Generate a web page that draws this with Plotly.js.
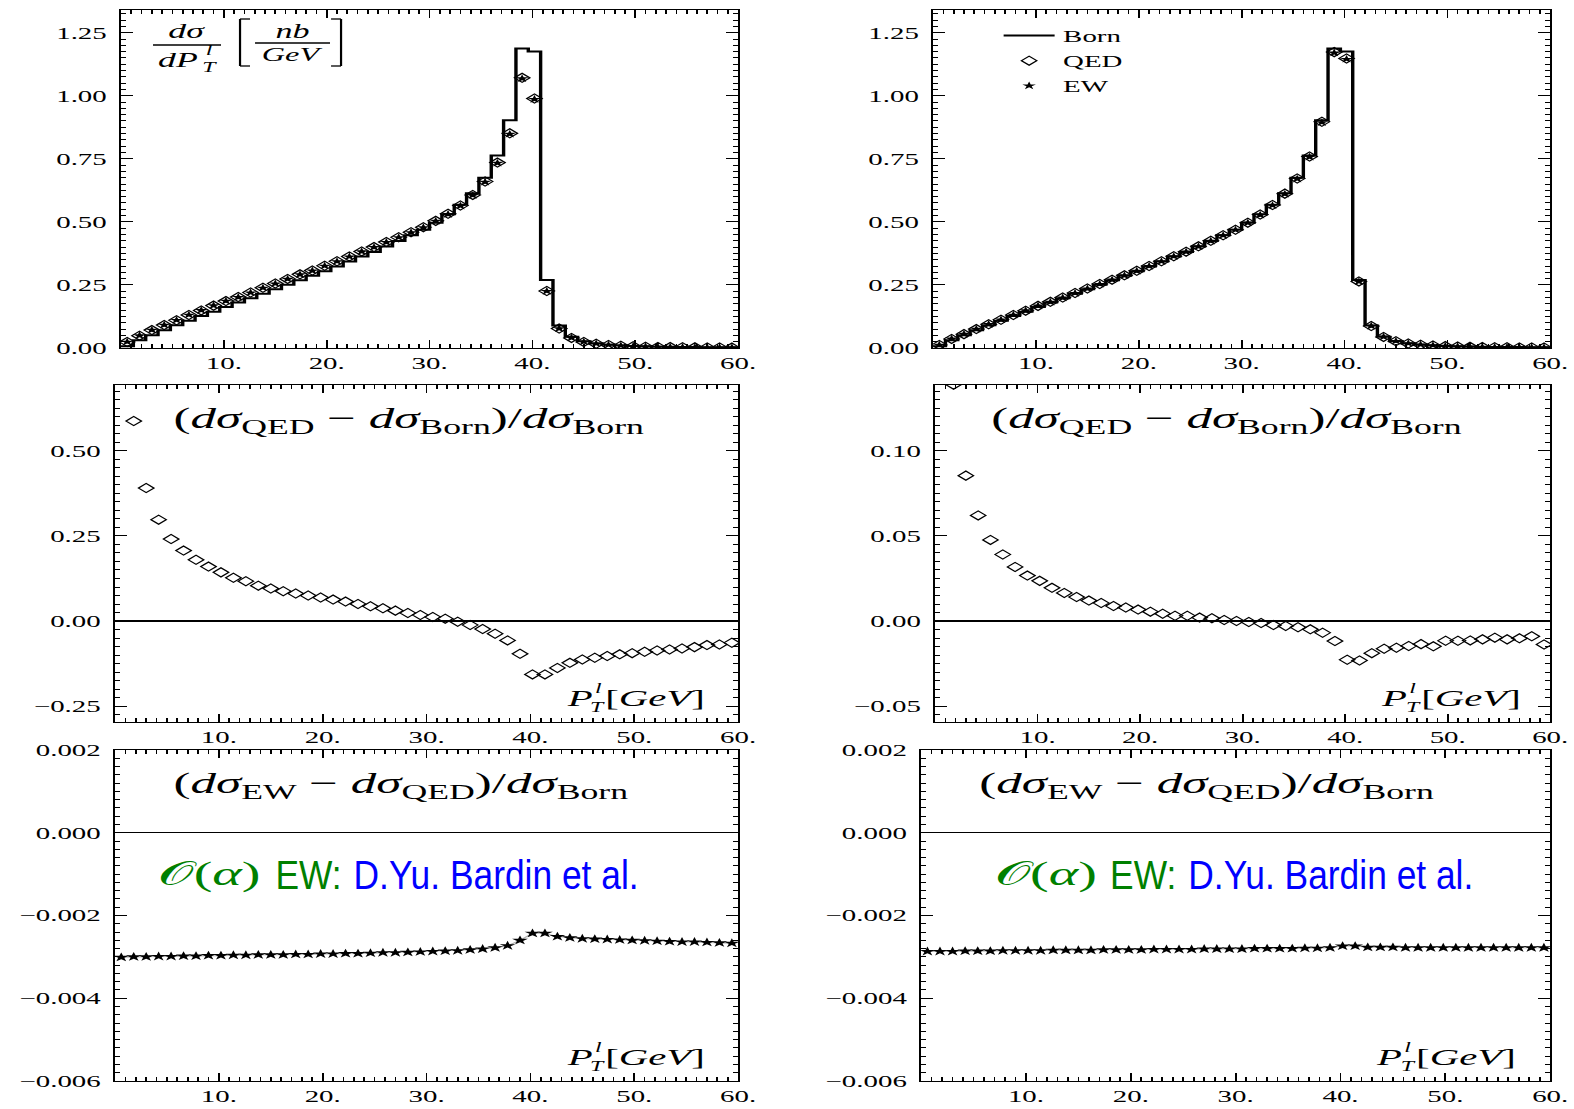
<!DOCTYPE html>
<html>
<head>
<meta charset="utf-8">
<script src="https://cdn.plot.ly/plotly-3.0.1.min.js"></script>
<style>
    html, body { margin: 0; padding: 0; background: #fff; overflow: hidden; }
    /* the reference is stretched sideways, so the plot is drawn narrow and widened */
    #plot { width: 926px; height: 1109px; transform: scaleX(1.7); transform-origin: 0 0; }
</style>
</head>
<body>
<div id="plot"></div>
<script>

// Bin centres of the lepton transverse momentum, GeV (bins of 1.2 GeV)
var binCenters = [0.6, 1.8, 3.0, 4.2, 5.4, 6.6, 7.8, 9.0, 10.2, 11.4,
                  12.6, 13.8, 15.0, 16.2, 17.4, 18.6, 19.8, 21.0, 22.2, 23.4,
                  24.6, 25.8, 27.0, 28.2, 29.4, 30.6, 31.8, 33.0, 34.2, 35.4,
                  36.6, 37.8, 39.0, 40.2, 41.4, 42.6, 43.8, 45.0, 46.2, 47.4,
                  48.6, 49.8, 51.0, 52.2, 53.4, 54.6, 55.8, 57.0, 58.2, 59.4];

// Born cross section, nb/GeV (same in both columns)
var bornXsec = [0.007, 0.031, 0.051, 0.070, 0.090, 0.108, 0.127, 0.144, 0.163, 0.180,
                0.197, 0.215, 0.233, 0.251, 0.269, 0.286, 0.304, 0.323, 0.343, 0.363,
                0.381, 0.402, 0.424, 0.447, 0.469, 0.497, 0.530, 0.568, 0.614, 0.675,
                0.763, 0.903, 1.187, 1.175, 0.270, 0.089, 0.045, 0.027, 0.018, 0.013,
                0.010, 0.0075, 0.0058, 0.0046, 0.0038, 0.0032, 0.0027, 0.0023, 0.0020, 0.0017];

// QED and EW cross sections, left column
var qedLeft = [0.024, 0.049, 0.071, 0.091, 0.110, 0.131, 0.149, 0.168, 0.186, 0.202,
               0.220, 0.239, 0.256, 0.274, 0.292, 0.307, 0.326, 0.344, 0.363, 0.383,
               0.400, 0.420, 0.439, 0.459, 0.479, 0.504, 0.532, 0.565, 0.607, 0.660,
               0.735, 0.851, 1.071, 0.989, 0.226, 0.077, 0.040, 0.024, 0.017, 0.012,
               0.009, 0.0068, 0.0053, 0.0042, 0.0035, 0.0029, 0.0025, 0.0021, 0.0019, 0.0016];
var ewLeft = [0.024, 0.049, 0.071, 0.091, 0.110, 0.131, 0.149, 0.168, 0.186, 0.201,
              0.219, 0.238, 0.255, 0.273, 0.291, 0.306, 0.325, 0.343, 0.362, 0.382,
              0.399, 0.419, 0.438, 0.458, 0.478, 0.503, 0.530, 0.563, 0.605, 0.658,
              0.733, 0.848, 1.068, 0.986, 0.225, 0.077, 0.040, 0.024, 0.017, 0.012,
              0.009, 0.0068, 0.0053, 0.0042, 0.0035, 0.0029, 0.0025, 0.0021, 0.0019, 0.0016];

// QED and EW cross sections, right column
var qedRight = [0.012, 0.036, 0.055, 0.075, 0.094, 0.112, 0.131, 0.148, 0.167, 0.183,
                0.200, 0.218, 0.236, 0.254, 0.271, 0.288, 0.306, 0.325, 0.344, 0.364,
                0.382, 0.403, 0.425, 0.447, 0.469, 0.497, 0.529, 0.567, 0.612, 0.672,
                0.759, 0.897, 1.173, 1.148, 0.264, 0.087, 0.044, 0.027, 0.018, 0.013,
                0.010, 0.0074, 0.0057, 0.0045, 0.0038, 0.0032, 0.0027, 0.0023, 0.0020, 0.0017];
var ewRight = [0.012, 0.036, 0.055, 0.075, 0.094, 0.112, 0.131, 0.148, 0.167, 0.182,
               0.199, 0.217, 0.235, 0.253, 0.270, 0.287, 0.305, 0.324, 0.343, 0.363,
               0.381, 0.402, 0.424, 0.446, 0.468, 0.496, 0.527, 0.565, 0.610, 0.670,
               0.757, 0.894, 1.170, 1.145, 0.263, 0.087, 0.044, 0.027, 0.018, 0.013,
               0.010, 0.0074, 0.0057, 0.0045, 0.0038, 0.0032, 0.0027, 0.0023, 0.0020, 0.0017];

// (dsigma_QED - dsigma_Born) / dsigma_Born
var relQedLeft = [2.4, 0.588, 0.391, 0.298, 0.241, 0.207, 0.180, 0.160, 0.143, 0.127,
                  0.117, 0.104, 0.0955, 0.0876, 0.0807, 0.0748, 0.0689, 0.0630, 0.0571, 0.0502,
                  0.0433, 0.0374, 0.0305, 0.0236, 0.0177, 0.0118, 0.0069, -0.002, -0.0118, -0.0236,
                  -0.0374, -0.0571, -0.0965, -0.157, -0.157, -0.138, -0.123, -0.113, -0.108, -0.103,
                  -0.098, -0.0945, -0.0906, -0.0866, -0.0837, -0.0807, -0.0768, -0.0709, -0.0689, -0.064];
var relQedRight = [0.3, 0.139, 0.0855, 0.0621, 0.0477, 0.0391, 0.0318, 0.0267, 0.0236, 0.0195,
                   0.0165, 0.0141, 0.0120, 0.0106, 0.0088, 0.0079, 0.0067, 0.0055, 0.0043, 0.0031,
                   0.0031, 0.0020, 0.0016, 0.0006, 0.0, -0.0006, -0.0012, -0.0024, -0.0029, -0.0037,
                   -0.0049, -0.0069, -0.0118, -0.0228, -0.0232, -0.0189, -0.0163, -0.0157, -0.0147, -0.0136,
                   -0.0149, -0.0116, -0.0116, -0.0114, -0.0108, -0.0098, -0.0108, -0.0102, -0.0090, -0.0138];

// (dsigma_EW - dsigma_QED) / dsigma_Born
var relEwLeft = [-0.00301, -0.00300, -0.00300, -0.00299, -0.00299, -0.00298, -0.00298, -0.00297, -0.00297, -0.00296,
                 -0.00296, -0.00295, -0.00295, -0.00295, -0.00294, -0.00294, -0.00293, -0.00293, -0.00292, -0.00292,
                 -0.00291, -0.00290, -0.00290, -0.00289, -0.00288, -0.00287, -0.00286, -0.00285, -0.00283, -0.00281,
                 -0.00278, -0.00273, -0.00260, -0.00243, -0.00243, -0.00251, -0.00254, -0.00256, -0.00257, -0.00258,
                 -0.00259, -0.00260, -0.00261, -0.00262, -0.00263, -0.00264, -0.00264, -0.00265, -0.00266, -0.00267];
var relEwRight = [-0.00287, -0.00287, -0.00287, -0.00286, -0.00286, -0.00286, -0.00285, -0.00285, -0.00285, -0.00285,
                  -0.00284, -0.00284, -0.00284, -0.00284, -0.00283, -0.00283, -0.00283, -0.00283, -0.00282, -0.00282,
                  -0.00282, -0.00282, -0.00281, -0.00281, -0.00281, -0.00281, -0.00280, -0.00280, -0.00280, -0.00280,
                  -0.00279, -0.00279, -0.00278, -0.00274, -0.00274, -0.00277, -0.00277, -0.00277, -0.00278, -0.00278,
                  -0.00278, -0.00278, -0.00278, -0.00278, -0.00278, -0.00278, -0.00278, -0.00278, -0.00278, -0.00278];

// Tick labels of the P_T axes
var xTickVals = [10, 20, 30, 40, 50, 60];
var xTickText = ['10.', '20.', '30.', '40.', '50.', '60.'];


var BIN_WIDTH = 1.2;
var SERIF = 'Liberation Serif, Times New Roman, serif';
var SANS  = 'Liberation Sans, Arial, sans-serif';

// Reference pixel -> paper coordinates
function px(x) { return x / 1574; }
function py(y) { return 1 - y / 1109; }


// Histogram outline from bin centres
var edges = binCenters.map(function (c) { return +(c - BIN_WIDTH / 2).toFixed(2); }).concat([60]);
function stepY(vals) { return vals.concat([vals[vals.length - 1]]); }


// Axis builders
function xAxis(left, right, anchor) {
    return {
        domain: [px(left), px(right)], anchor: anchor, range: [0, 60],
        showline: true, mirror: 'allticks', linecolor: 'black', linewidth: 1,
        ticks: 'inside', ticklen: 8, tickwidth: 1, tickcolor: 'black',
        tickmode: 'array', tickvals: xTickVals, ticktext: xTickText,
        minor: {ticks: 'inside', tickmode: 'linear', tick0: 0, dtick: 1, ticklen: 4, tickcolor: 'black', showgrid: false},
        showgrid: false, zeroline: false, fixedrange: true,
        tickfont: {family: SERIF, size: 17, color: 'black'}
    };
}

function yAxis(top, bottom, anchor, range, dtick, fmt, zero) {
    return {
        domain: [py(bottom), py(top)], anchor: anchor, range: range,
        showline: true, mirror: 'allticks', linecolor: 'black', linewidth: 1,
        ticks: 'inside', ticklen: 7, tickwidth: 1, tickcolor: 'black',
        tickmode: 'linear', tick0: 0, dtick: dtick, tickformat: fmt,
        minor: {ticks: 'inside', tickmode: 'linear', tick0: 0, dtick: dtick / 10, ticklen: 3, tickcolor: 'black', showgrid: false},
        showgrid: false, zeroline: zero, zerolinecolor: 'black', zerolinewidth: 1.2,
        fixedrange: true, ticklabelstandoff: 4,
        tickfont: {family: SERIF, size: 17, color: 'black'}
    };
}


// Traces
function bornTrace(xa, ya, legend) {
    return {x: edges, y: stepY(bornXsec), xaxis: xa, yaxis: ya, type: 'scatter', mode: 'lines',
            line: {shape: 'hv', color: 'black', width: 2}, name: 'Born', showlegend: legend};
}
function qedTrace(vals, xa, ya, legend) {
    return {x: binCenters, y: vals, xaxis: xa, yaxis: ya, type: 'scatter', mode: 'markers',
            marker: {symbol: 'diamond-open', size: 7, color: 'black', line: {width: 1}}, name: 'QED', showlegend: legend};
}
function ewTrace(vals, xa, ya, legend) {
    return {x: binCenters, y: vals, xaxis: xa, yaxis: ya, type: 'scatter', mode: 'markers',
            marker: {symbol: 'star', size: 6, color: 'black'}, name: 'EW', showlegend: legend};
}
function relEwTrace(vals, xa, ya) {
    return {x: binCenters, y: vals, xaxis: xa, yaxis: ya, type: 'scatter', mode: 'lines+markers',
            line: {color: '#b0b0b0', width: 1}, marker: {symbol: 'star', size: 7, color: 'black'}, showlegend: false};
}

var data = [
    bornTrace('x', 'y', false), qedTrace(qedLeft, 'x', 'y', false), ewTrace(ewLeft, 'x', 'y', false),
    bornTrace('x2', 'y2', true), qedTrace(qedRight, 'x2', 'y2', true), ewTrace(ewRight, 'x2', 'y2', true),
    qedTrace(relQedLeft, 'x3', 'y3', false),
    qedTrace(relQedRight, 'x4', 'y4', false),
    relEwTrace(relEwLeft, 'x5', 'y5'),
    relEwTrace(relEwRight, 'x6', 'y6')
];


// Text helpers
function note(text, x, y, size, extra) {
    var a = {text: text, x: px(x), y: py(y), xref: 'paper', yref: 'paper', showarrow: false,
             xanchor: 'left', yanchor: 'middle', font: {family: SERIF, size: size, color: 'black'}};
    for (var k in extra) { a[k] = extra[k]; }
    return a;
}

function ptLabel(x, y) {
    return [
        note('<i>P</i>', x, y, 24),
        note('<i>l</i>', x + 29, y - 10, 14),
        note('<i>T</i>', x + 25, y + 9, 14),
        note('[<i>GeV</i>]', x + 40, y, 24)
    ];
}

var ratioQed = '(<i>dσ</i><sub>QED</sub> − <i>dσ</i><sub>Born</sub>)/<i>dσ</i><sub>Born</sub>';
var ratioEw  = '(<i>dσ</i><sub>EW</sub> − <i>dσ</i><sub>QED</sub>)/<i>dσ</i><sub>Born</sub>';

var annotations = [
    // d sigma / dP_T [nb / GeV]
    note('<i>dσ</i>', 187, 31, 21, {xanchor: 'center'}),
    note('<i>dP</i>', 155, 60, 21),
    note('<i>l</i>', 203, 51, 14),
    note('<i>T</i>', 199, 68, 14),
    note('<i>nb</i>', 292, 31, 20, {xanchor: 'center'}),
    note('<i>GeV</i>', 292, 54, 19, {xanchor: 'center'}),

    note(ratioQed, 170, 420, 30),
    note(ratioQed, 988, 420, 30),
    note(ratioEw, 170, 785, 30),
    note(ratioEw, 976, 785, 30),

    note('𝒪(<i>α</i>)', 155, 874, 33, {font: {family: SERIF, size: 33, color: '#008000'}}),
    note('EW:', 272, 875, 40, {font: {family: SANS, size: 40, color: '#008000'}}),
    note('D.Yu. Bardin et al.', 350, 875, 40, {font: {family: SANS, size: 40, color: '#0000ff'}}),
    note('𝒪(<i>α</i>)', 991, 874, 33, {font: {family: SERIF, size: 33, color: '#008000'}}),
    note('EW:', 1107, 875, 40, {font: {family: SANS, size: 40, color: '#008000'}}),
    note('D.Yu. Bardin et al.', 1185, 875, 40, {font: {family: SANS, size: 40, color: '#0000ff'}})
].concat(ptLabel(562, 698), ptLabel(1377, 698), ptLabel(562, 1057), ptLabel(1372, 1057));


// Fraction bars and brackets of the top-left label
function seg(x0, y0, x1, y1) {
    return {type: 'line', xref: 'paper', yref: 'paper', x0: px(x0), y0: py(y0), x1: px(x1), y1: py(y1),
            line: {color: 'black', width: 1.3}};
}
var shapes = [
    seg(153, 45, 221, 45),
    seg(255, 43, 330, 43),
    seg(240, 19, 240, 66), seg(240, 19, 250, 19), seg(240, 66, 250, 66),
    seg(341, 19, 341, 66), seg(331, 19, 341, 19), seg(331, 66, 341, 66)
];


var layout = {
    width: 926, height: 1109,
    margin: {l: 0, r: 0, t: 0, b: 0},
    paper_bgcolor: 'white', plot_bgcolor: 'white',
    font: {family: SERIF, color: 'black'},
    xaxis:  xAxis(121, 738, 'y'),
    yaxis:  yAxis(10, 348, 'x', [0, 1.34], 0.25, '.2f', false),
    xaxis2: xAxis(933, 1550, 'y2'),
    yaxis2: yAxis(10, 348, 'x2', [0, 1.34], 0.25, '.2f', false),
    xaxis3: xAxis(115, 738, 'y3'),
    yaxis3: yAxis(385, 722, 'x3', [-0.297, 0.694], 0.25, '.2f', true),
    xaxis4: xAxis(935, 1550, 'y4'),
    yaxis4: yAxis(385, 722, 'x4', [-0.0594, 0.1388], 0.05, '.2f', true),
    xaxis5: xAxis(115, 738, 'y5'),
    yaxis5: yAxis(750, 1081, 'x5', [-0.006, 0.002], 0.002, '.3f', true),
    xaxis6: xAxis(921, 1550, 'y6'),
    yaxis6: yAxis(750, 1081, 'x6', [-0.006, 0.002], 0.002, '.3f', true),
    showlegend: true,
    legend: {x: px(995), y: py(18), xanchor: 'left', yanchor: 'top', bgcolor: 'rgba(0,0,0,0)',
             font: {family: SERIF, size: 17, color: 'black'}, itemwidth: 30, tracegroupgap: 0},
    annotations: annotations,
    shapes: shapes
};


Plotly.newPlot('plot', data, layout, {displayModeBar: false, staticPlot: true}).then(function (gd) {

    // The sans-serif credit line is much narrower than the rest of the page
    gd.querySelectorAll('.annotation-text').forEach(function (t) {
        var s = t.textContent;
        if (s.indexOf('Bardin') >= 0 || s === 'EW:') {
            t.style.transformBox = 'fill-box';
            t.style.transformOrigin = '0 50%';
            t.style.transform = 'scaleX(0.52)';
        }
    });
});
</script>
</body>
</html>
